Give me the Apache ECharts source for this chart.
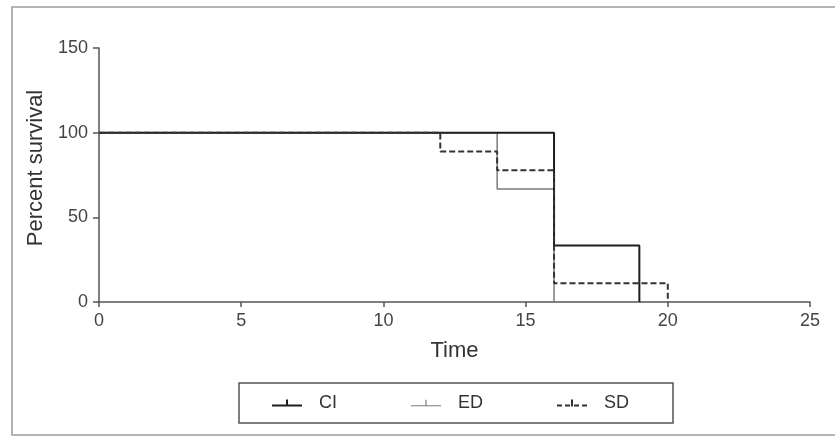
<!DOCTYPE html>
<html>
<head>
<meta charset="utf-8">
<script src="https://cdn.jsdelivr.net/npm/echarts@6/dist/echarts.min.js"></script>
<style>
html,body{margin:0;padding:0;background:#fff;}
#main{width:835px;height:437px;}
</style>
</head>
<body>
<div id="main"></div>
<script>
var seriesNames = ['CI', 'ED', 'SD'];
var ciData = [[0, 100], [16, 33.3], [19, 0]];
var edData = [[0, 100], [14, 66.7], [16, 0]];
var sdData = [[0, 100], [12, 88.9], [14, 77.8], [16, 11.1], [20, 0]];
var xTicks = [0, 5, 10, 15, 20, 25];
var yTicks = [0, 50, 100, 150];

var FONT = 'Liberation Sans, Arial, sans-serif';
var chart = echarts.init(document.getElementById('main'), null, {renderer: 'canvas'});

var iconSolid = 'path://M0,5h30v2H0z M14,0h2v5h-2z';
var iconThin = 'path://M0,5.5h30v1.2H0z M14.4,0h1.2v5.5h-1.2z';
var iconDash = 'path://M0,5h5v2H0z M8,5h5v2H8z M17,5h5v2h-5z M25,5h5v2h-5z M14,0h2v7h-2z';

var option = {
  animation: false,
  backgroundColor: '#fff',
  graphic: [{
    type: 'rect',
    shape: {x: 12, y: 7, width: 900, height: 428},
    style: {fill: 'none', stroke: '#b4b4b4', lineWidth: 2},
    silent: true
  }],
  grid: {left: 99, top: 48, right: 25, bottom: 135, containLabel: false},
  legend: {
    data: [
      {name: seriesNames[0], icon: iconSolid, textStyle: {padding: [0, 10, 0, 12]}},
      {name: seriesNames[1], icon: iconThin},
      {name: seriesNames[2], icon: iconDash}
    ],
    left: 239,
    top: 383,
    itemWidth: 30,
    itemHeight: 7,
    itemGap: 74,
    padding: [11, 44, 11, 33],
    borderColor: '#555',
    borderWidth: 1.5,
    borderRadius: 0,
    textStyle: {fontSize: 18, fontFamily: FONT, color: '#333', padding: [0, 0, 0, 12]}
  },
  xAxis: {
    type: 'value',
    min: 0, max: 25, interval: 5,
    name: 'Time',
    nameLocation: 'middle',
    nameGap: 38,
    nameTextStyle: {fontSize: 22, fontFamily: FONT, color: '#333'},
    axisLine: {show: true, lineStyle: {color: '#555', width: 1.5}},
    axisTick: {show: true, length: 5, lineStyle: {color: '#555', width: 1.5}},
    axisLabel: {fontSize: 18, fontFamily: FONT, color: '#444', margin: 10,
      formatter: function (v) { return xTicks.indexOf(v) >= 0 ? String(v) : ''; }},
    splitLine: {show: false}
  },
  yAxis: {
    type: 'value',
    min: 0, max: 150, interval: 50,
    name: 'Percent survival',
    nameLocation: 'middle',
    nameGap: 52,
    nameTextStyle: {fontSize: 22, fontFamily: FONT, color: '#333', padding: [0, 0, 0, 14]},
    axisLine: {show: true, lineStyle: {color: '#555', width: 1.5}},
    axisTick: {show: true, length: 6, lineStyle: {color: '#555', width: 1.5}},
    axisLabel: {fontSize: 18, fontFamily: FONT, color: '#444', margin: 11,
      formatter: function (v) { return yTicks.indexOf(v) >= 0 ? String(v) : ''; }},
    splitLine: {show: false}
  },
  series: [
    {
      name: seriesNames[1], type: 'line', step: 'end', data: edData,
      showSymbol: false, symbol: 'none', z: 2,
      itemStyle: {color: '#7a7a7a'},
      lineStyle: {color: '#7a7a7a', width: 1.5}
    },
    {
      name: seriesNames[0], type: 'line', step: 'end', data: ciData,
      showSymbol: false, symbol: 'none', z: 3,
      itemStyle: {color: '#1e1e1e'},
      lineStyle: {color: '#1e1e1e', width: 2}
    },
    {
      name: seriesNames[2], type: 'line', step: 'end', data: sdData,
      showSymbol: false, symbol: 'none', z: 4,
      itemStyle: {color: '#333'},
      lineStyle: {color: '#333', width: 2, type: [6, 3]}
    }
  ]
};
chart.setOption(option);
</script>
</body>
</html>
